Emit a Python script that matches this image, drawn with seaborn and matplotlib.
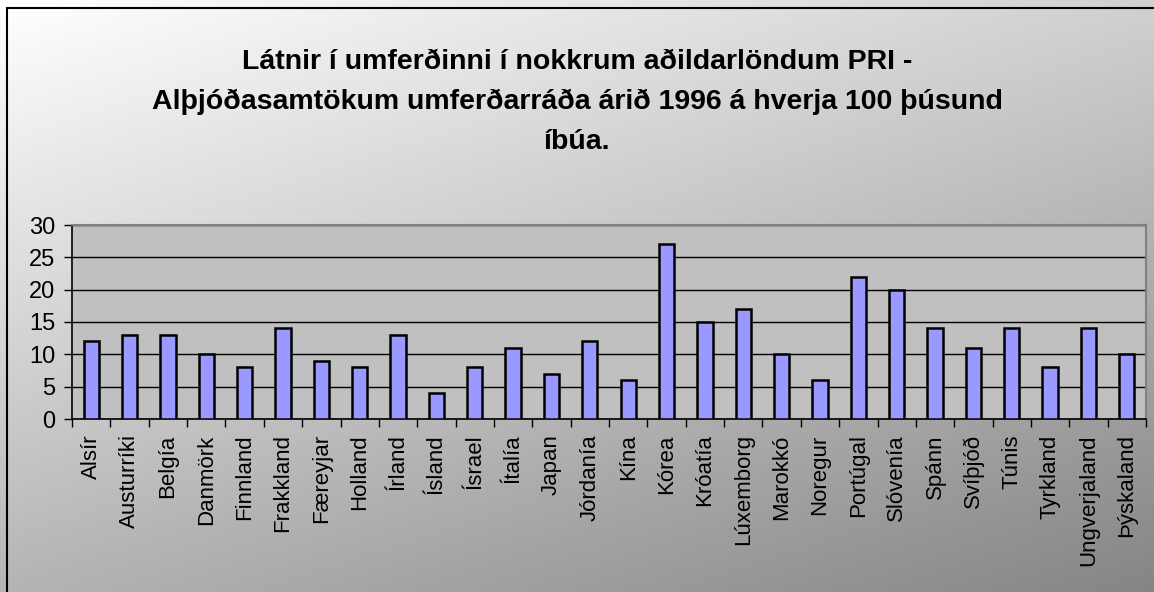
import numpy as np
import pandas as pd
import matplotlib
matplotlib.use("Agg")
import matplotlib.pyplot as plt
from matplotlib.patches import Rectangle
from matplotlib.ticker import FixedLocator
import seaborn as sns

# data
countries = ["Alsír", "Austurríki", "Belgía", "Danmörk", "Finnland", "Frakkland",
             "Færeyjar", "Holland", "Írland", "Ísland", "Ísrael", "Ítalía", "Japan",
             "Jórdanía", "Kína", "Kórea", "Króatía", "Lúxemborg", "Marokkó",
             "Noregur", "Portúgal", "Slóvenía", "Spánn", "Svíþjóð", "Túnis",
             "Tyrkland", "Ungverjaland", "Þýskaland"]
deaths = [12, 13, 13, 10, 8, 14, 9, 8, 13, 4, 8, 11, 7, 12, 6, 27, 15, 17, 10,
          6, 22, 20, 14, 11, 14, 8, 14, 10]
y_ticks = [0, 5, 10, 15, 20, 25, 30]
title = ("Látnir í umferðinni í nokkrum aðildarlöndum PRI -\n"
         "Alþjóðasamtökum umferðarráða árið 1996 á hverja 100 þúsund\n"
         "íbúa.")

df = pd.DataFrame({"land": countries, "latnir": deaths})

sns.set_style("white")
plt.rcParams["font.family"] = ["Liberation Sans", "DejaVu Sans"]
plt.rcParams["text.color"] = "black"
plt.rcParams["xtick.color"] = "black"
plt.rcParams["ytick.color"] = "black"

fig = plt.figure(figsize=(11.54, 5.92), dpi=100)

# diagonal white -> grey background
bg = fig.add_axes([0, 0, 1, 1], zorder=-10)
gx, gy = np.meshgrid(np.linspace(0, 1, 300), np.linspace(0, 1, 200))
shade = 255 - 47 * gx - 75 * gy
bg.imshow(shade, cmap="gray", vmin=0, vmax=255, aspect="auto",
          extent=[0, 1, 1, 0], interpolation="bilinear")
bg.set_xlim(0, 1)
bg.set_ylim(1, 0)
bg.axis("off")

# outer frame
fig.patches.append(Rectangle((7 / 1154, -0.05), 1.2, 1 - 8 / 592 + 0.05,
                             transform=fig.transFigure, fill=False,
                             edgecolor="black", linewidth=1.5, zorder=5))

ax = fig.add_axes([72 / 1154, 1 - 419 / 592, (1146 - 72) / 1154, (419 - 225) / 592])
ax.set_facecolor("#C0C0C0")

sns.barplot(data=df, x="land", y="latnir", color="#9999FF", saturation=1,
            edgecolor="black", linewidth=1.8, width=0.4, ax=ax, zorder=3)

ax.set_ylim(0, 30)
ax.set_xlim(-0.5, len(countries) - 0.5)
ax.set_yticks(y_ticks)
ax.yaxis.grid(True, color="black", linewidth=1)
ax.set_axisbelow(True)
ax.set_xlabel("")
ax.set_ylabel("")

ax.tick_params(axis="y", labelsize=17, length=6, width=1, pad=6, left=True)
ax.tick_params(axis="x", which="major", labelsize=16, length=0, pad=11,
               labelrotation=90)
ax.xaxis.set_minor_locator(FixedLocator(np.arange(-0.5, len(countries), 1)))
ax.tick_params(axis="x", which="minor", length=6, width=1, bottom=True)

for side in ["left", "bottom"]:
    ax.spines[side].set_color("black")
    ax.spines[side].set_linewidth(1.2)
for side in ["top", "right"]:
    ax.spines[side].set_color("#808080")
    ax.spines[side].set_linewidth(1.5)

fig.text(0.5, 1 - 102 / 592, title, ha="center", va="center", ma="center",
         fontsize=20.5, fontweight="bold", linespacing=1.7)

fig.savefig("out.png", dpi=100)
